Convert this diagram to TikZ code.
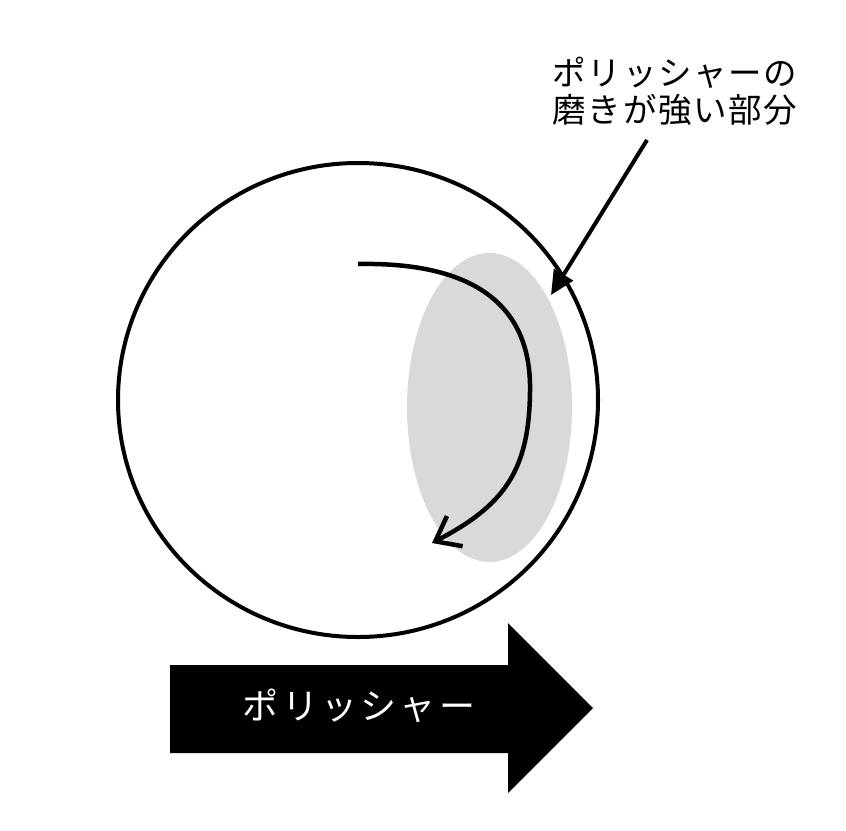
\documentclass[tikz,border=0pt]{standalone}
\usepackage{fontspec}
\newfontfamily\jp{Noto Sans CJK JP}
\usetikzlibrary{arrows.meta,shapes.geometric}
\definecolor{lightgray}{HTML}{D9D9D9}
\tikzset{
  outline/.style={draw=black, line width=4pt},
  curvearrow/.style={draw=black, line width=4.5pt, -{Straight Barb[length=22pt,width=34pt,line width=4.5pt]}},
  pointer/.style={draw=black, line width=4pt, -{Triangle[length=24pt,width=22pt]}},
  label/.style={font=\jp\fontsize{33.5}{37}\selectfont\addfontfeature{LetterSpace=5}, align=center, inner sep=0pt},
  arrowlabel/.style={font=\jp\fontsize{36}{40}\selectfont\addfontfeature{LetterSpace=9}, text=white, inner sep=0pt}
}
\begin{document}
\begin{tikzpicture}[x=1pt,y=-1pt]
\useasboundingbox (0,0) rectangle (846,830);
% gray region
\fill[lightgray] (489.5,407.5) ellipse [x radius=82.5, y radius=154.5];
% circle
\node[outline, ellipse, minimum width=480pt, minimum height=474pt, inner sep=0pt] (ball) at (358,400) {};
% curved arrow
\coordinate (cs) at (358,264);
\coordinate (ce) at (432,543);
\draw[curvearrow] (cs) .. controls (467,262) and (532,300) .. (530,392) .. controls (529,470) and (505,505) .. (ce);
% label
\node[label] (lab) at (675,91) {ポリッシャーの\\磨きが強い部分};
\coordinate (ps) at (647,140);
\coordinate (pe) at (551,295);
\draw[pointer] (ps) -- (pe);
% big arrow
\fill[black] (170,665) -- (508,665) -- (508,623) -- (593,708) -- (508,793) -- (508,753) -- (170,753) -- cycle;
\node[arrowlabel] (pol) at (359,706) {ポリッシャー};
\end{tikzpicture}
\end{document}
